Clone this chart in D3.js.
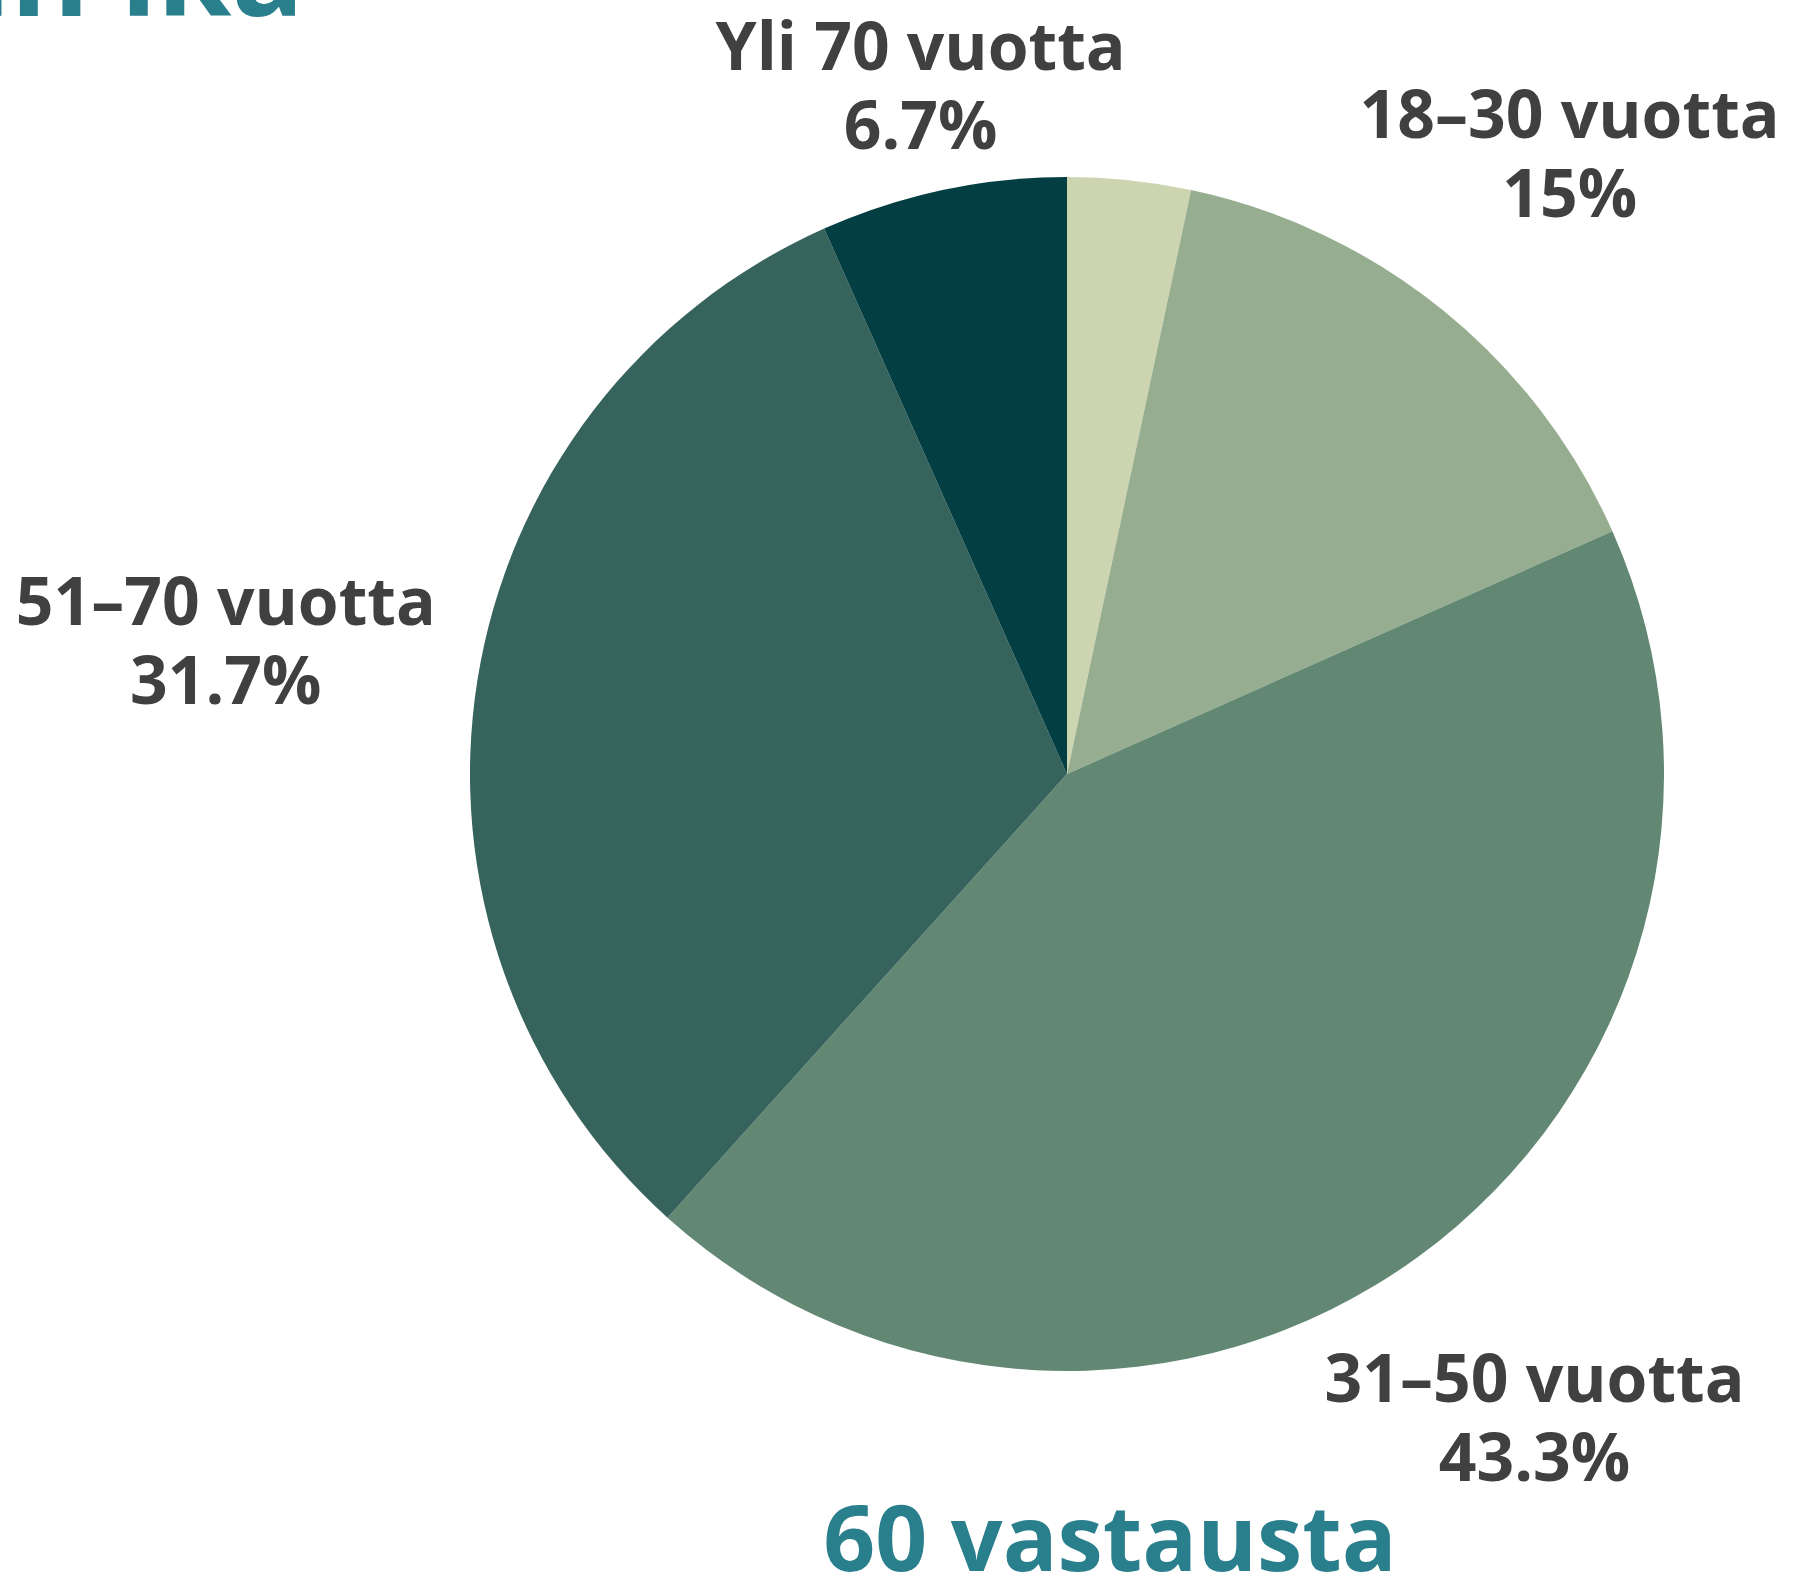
<!DOCTYPE html>
<html><head><meta charset="utf-8">
<script src="https://cdn.jsdelivr.net/npm/d3@7"></script>
<style>html,body{margin:0;padding:0;background:#fff;overflow:hidden}</style>
</head><body>
<svg id="chart" width="1799" height="1579"></svg>
<script>
const categories = ["Alle 18 vuotta", "18–30 vuotta", "31–50 vuotta", "51–70 vuotta", "Yli 70 vuotta"];
const counts = [2, 9, 26, 19, 4];
const showLabel = [false, true, true, true, true];
const colors = ["#ccd5b0", "#97ad8f", "#628873", "#36635c", "#033e42"];
const titleText = "Vastaajan ikä";
const footerText = "60 vastausta";

const W = 1799, H = 1579;
const cx = 1067, cy = 774, R = 597;
const font = "'Open Sans', 'DejaVu Sans', sans-serif";
const svg = d3.select("#chart");

const total = d3.sum(counts);
const data = categories.map((c, i) => ({cat: c, value: counts[i], color: colors[i], show: showLabel[i]}));
const pie = d3.pie().value(d => d.value).sort(null);
const arcs = pie(data);
const arc = d3.arc().innerRadius(0).outerRadius(R);

const g = svg.append("g").attr("transform", `translate(${cx},${cy})`);
g.selectAll("path").data(arcs).join("path")
  .attr("d", arc).attr("fill", d => d.data.color);

const fmt = d3.format(".1~f");
const labelSize = 66, capH = 48, lineGap = 79;
const lg = svg.append("g");
arcs.filter(a => a.data.show).forEach(a => {
  const mid = (a.startAngle + a.endAngle) / 2;
  const s = Math.sin(mid), c = Math.cos(mid);
  const gap = s > 0 ? 120 : 42;
  const t = lg.append("text").attr("font-family", font).attr("font-weight", 700)
    .attr("font-size", labelSize).attr("fill", "#404040").attr("text-anchor", "middle");
  const t1 = t.append("tspan").text(a.data.cat);
  const t2 = t.append("tspan").text(fmt(a.data.value / total * 100) + "%");
  const w = Math.max(t1.node().getComputedTextLength(), t2.node().getComputedTextLength());
  const h = capH + lineGap;
  const d = Math.min(Math.abs(s) > 1e-6 ? (w / 2) / Math.abs(s) : Infinity,
                     Math.abs(c) > 1e-6 ? (h / 2) / Math.abs(c) : Infinity);
  const rr = R + gap + d;
  const bx = cx + rr * s, by = cy - rr * c;
  t1.attr("x", bx).attr("y", by - h / 2 + capH);
  t2.attr("x", bx).attr("y", by - h / 2 + capH + lineGap);
});

svg.append("text").attr("x", 304).attr("y", 16).attr("text-anchor", "end")
  .attr("font-family", font).attr("font-weight", 700).attr("font-size", 120)
  .attr("fill", "#2a7f8c").text(titleText);

svg.append("text").attr("x", 1110).attr("y", 1571).attr("text-anchor", "middle")
  .attr("font-family", font).attr("font-weight", 700).attr("font-size", 91)
  .attr("fill", "#2a7f8c").text(footerText);
</script>
</body></html>
